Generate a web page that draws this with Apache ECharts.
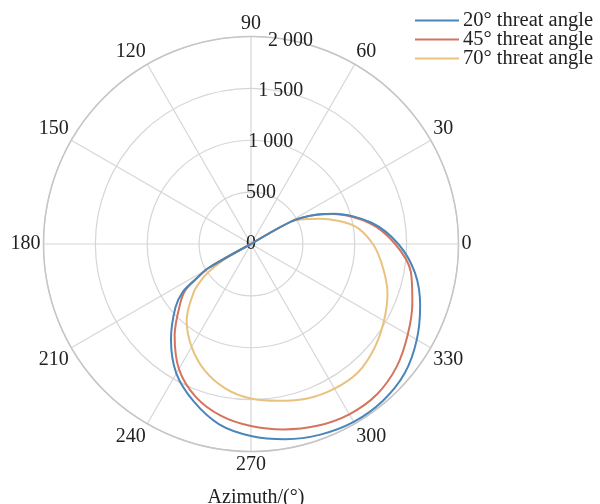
<!DOCTYPE html>
<html>
<head>
<meta charset="utf-8">
<script src="https://cdn.jsdelivr.net/npm/echarts@6/dist/echarts.min.js"></script>
<style>
  html, body { margin: 0; padding: 0; background: #fff; }
  #chart { width: 600px; height: 504px; }
</style>
</head>
<body>
<div id="chart"></div>
<script>
// sample angles (deg, counter-clockwise from 0)
const angles = [30, 29, 24, 20, 10, 0, 350, 340, 330, 320, 310, 300, 290, 280, 270, 260, 250, 240, 230, 220, 215, 212.5, 209.5, 210];
// radius values for each threat angle
const r20 = [0, 460, 700, 855, 1180, 1420, 1605, 1735, 1845, 1935, 1975, 1980, 1955, 1910, 1850, 1765, 1615, 1440, 1200, 950, 800, 640, 480, 0];
const r45 = [0, 460, 695, 845, 1160, 1390, 1565, 1655, 1745, 1835, 1890, 1895, 1865, 1815, 1755, 1680, 1565, 1390, 1145, 890, 770, 620, 470, 0];
const r70 = [0, 450, 590, 710, 1010, 1175, 1290, 1400, 1480, 1555, 1610, 1610, 1585, 1535, 1490, 1415, 1300, 1145, 965, 720, 560, 440, 270, 0];

const seriesNames = ['20° threat angle', '45° threat angle', '70° threat angle'];
const seriesColors = ['#4a86ba', '#d4745c', '#e8c27e'];
const radiusTicks = [0, 500, 1000, 1500, 2000];

const FONT = 'Liberation Serif';
const chart = echarts.init(document.getElementById('chart'));

function toPairs(r) {
    return r.map((v, i) => [v, angles[i]]);
}

function fmtThousands(v) {
    return v >= 1000 ? Math.floor(v / 1000) + ' ' + String(v % 1000).padStart(3, '0') : String(v);
}

const center = [251, 244];
const radius = 207.5;

const option = {
    animation: false,
    title: {
        text: 'Azimuth/(°)',
        left: 251,
        top: 483,
        textAlign: 'center',
        textStyle: { fontFamily: FONT, fontSize: 20, fontWeight: 'normal', color: '#222' }
    },
    legend: {
        orient: 'vertical',
        right: 7,
        top: 10,
        itemWidth: 44,
        itemHeight: 2,
        itemGap: -2,
        icon: 'rect',
        padding: 0,
        textStyle: { fontFamily: FONT, fontSize: 20.5, color: '#222', padding: [0, 0, 0, -1] },
        data: seriesNames
    },
    polar: [
        { center: center, radius: radius },
        { center: center, radius: radius }
    ],
    angleAxis: [
        {
            polarIndex: 0,
            type: 'value',
            min: 0,
            max: 360,
            interval: 30,
            startAngle: 0,
            clockwise: false,
            axisLine: { lineStyle: { color: '#c6c6c6', width: 1.5 } },
            axisTick: { show: false },
            axisLabel: {
                margin: 3,
                fontFamily: FONT,
                fontSize: 20,
                color: '#222',
                formatter: v => (v === 360 ? '' : String(v))
            },
            splitLine: { lineStyle: { color: '#d6d6d6', width: 1.2 } }
        },
        {
            // only used to put the radius labels on a slanted line
            polarIndex: 1,
            type: 'value',
            min: 0,
            max: 360,
            startAngle: 79,
            show: false
        }
    ],
    radiusAxis: [
        {
            polarIndex: 0,
            type: 'value',
            min: 0,
            max: 2000,
            interval: 500,
            axisLine: { show: false },
            axisTick: { show: false },
            axisLabel: { show: false },
            splitLine: { lineStyle: { color: '#d6d6d6', width: 1.2 } }
        },
        {
            polarIndex: 1,
            type: 'value',
            min: 0,
            max: 2000,
            interval: 500,
            axisLine: { show: false },
            axisTick: { show: false },
            splitLine: { show: false },
            axisLabel: {
                margin: 0,
                rotate: 0,
                align: 'center',
                verticalAlign: 'middle',
                fontFamily: FONT,
                fontSize: 20,
                color: '#222',
                formatter: v => (radiusTicks.indexOf(v) >= 0 ? fmtThousands(v) : '')
            }
        }
    ],
    series: [r20, r45, r70].map((r, i) => ({
        name: seriesNames[i],
        type: 'line',
        coordinateSystem: 'polar',
        polarIndex: 0,
        data: toPairs(r),
        symbol: 'none',
        smooth: 0.3,
        lineStyle: { color: seriesColors[i], width: 2 },
        itemStyle: { color: seriesColors[i] },
        z: 10 - i
    }))
};

chart.setOption(option);
window.addEventListener('resize', function () {
    chart.resize();
});
</script>
</body>
</html>
